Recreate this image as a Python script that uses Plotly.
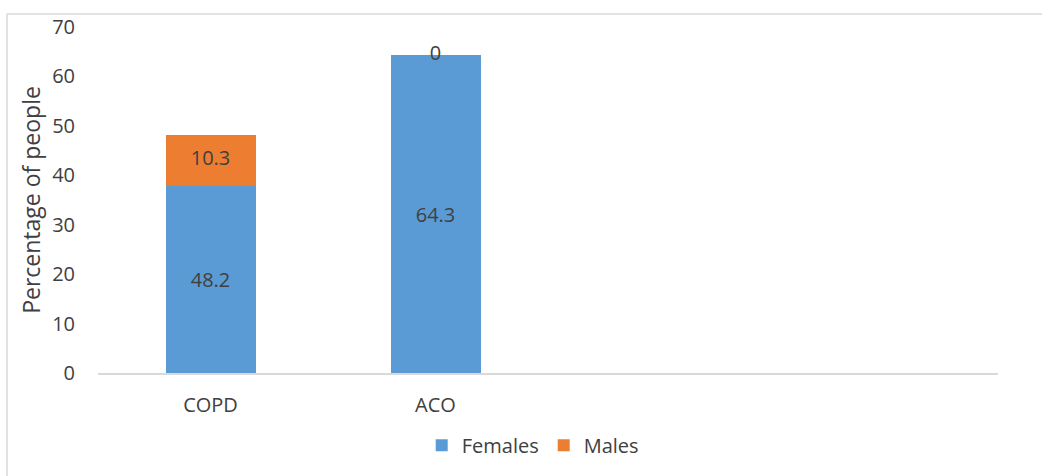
import plotly.graph_objects as go

categories = ["COPD", "ACO", " ", "  "]
females = [37.9, 64.3, None, None]
female_labels = ["48.2", "64.3", "", ""]
males = [10.3, 0, None, None]
male_labels = ["10.3", "0", "", ""]
y_ticks = [0, 10, 20, 30, 40, 50, 60, 70]

BLUE = "#5B9BD5"
ORANGE = "#ED7D31"
TXT = "#404040"
FONT = "Open Sans"
FS = 20

fig = go.Figure()
fig.add_trace(go.Bar(
    x=categories, y=females, name="Females", marker=dict(color=BLUE, line=dict(width=0)),
    text=female_labels, textposition="inside", insidetextanchor="middle",
    textfont=dict(family=FONT, size=FS, color=TXT), textangle=0, cliponaxis=False,
))
fig.add_trace(go.Bar(
    x=categories, y=males, name="Males", marker=dict(color=ORANGE, line=dict(width=0)),
    showlegend=True,
))
# male labels centred on each orange segment
mid = [f + m / 2 if f is not None else None for f, m in zip(females, males)]
fig.add_trace(go.Scatter(
    x=categories, y=mid, mode="text", text=male_labels, showlegend=False,
    textfont=dict(family=FONT, size=FS, color=TXT), hoverinfo="skip", cliponaxis=False,
))

fig.update_layout(
    barmode="stack", bargap=0.6,
    width=1042, height=476,
    margin=dict(l=98, r=44, t=27, b=102),
    paper_bgcolor="white", plot_bgcolor="white",
    font=dict(family=FONT, size=FS, color=TXT),
    uniformtext=dict(mode="show", minsize=8),
    legend=dict(orientation="h", x=0.483, xanchor="center", y=-0.205, yanchor="middle",
                font=dict(family=FONT, size=FS, color=TXT), traceorder="normal",
                itemwidth=30),
    xaxis=dict(showline=True, linecolor="#D9D9D9", linewidth=1.5, showgrid=False,
               ticks="", ticklabelstandoff=13, tickfont=dict(family=FONT, size=FS, color=TXT),
               fixedrange=True),
    yaxis=dict(range=[0, 70], tickvals=y_ticks, showgrid=False, zeroline=False,
               showline=False, ticks="", ticklabelstandoff=22,
               tickfont=dict(family=FONT, size=FS, color=TXT),
               title=dict(text="Percentage of people", font=dict(family=FONT, size=23, color=TXT),
                          standoff=5)),
    shapes=[
        dict(type="line", xref="paper", yref="paper", x0=-0.1011, x1=1.1, y0=1.0375, y1=1.0375,
             line=dict(color="#D9D9D9", width=1.5)),
        dict(type="line", xref="paper", yref="paper", x0=-0.1011, x1=-0.1011, y0=1.0375, y1=-0.4,
             line=dict(color="#D9D9D9", width=1.5)),
    ],
)

fig.write_html("out.html")
